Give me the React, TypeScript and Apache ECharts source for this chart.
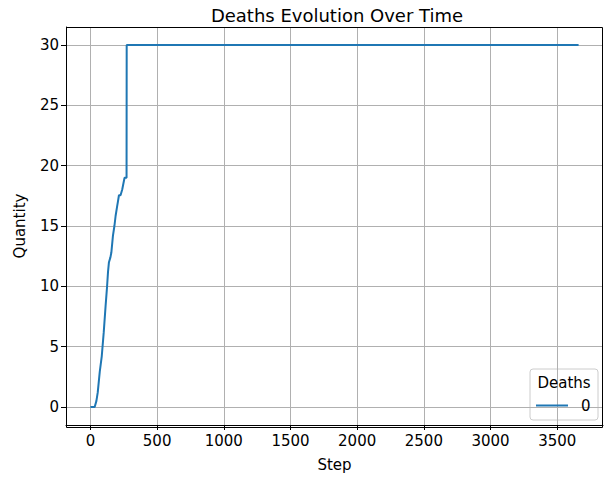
import React, { useEffect, useRef } from "react";
import * as echarts from "echarts";

const steps = [0, 32, 45, 55, 70, 85, 100, 114, 125, 132, 139, 150, 157, 169, 180, 189, 200, 206, 214, 226, 239, 247, 256, 271, 272, 3660];
const deaths = [0, 0, 0.5, 1.2, 2.9, 4.2, 6.2, 8.4, 10.0, 11.2, 12.0, 12.4, 12.8, 14.2, 15.0, 15.85, 16.6, 17.0, 17.55, 17.55, 18.05, 18.5, 19.0, 19.0, 30, 30];
const xTicks = [0, 500, 1000, 1500, 2000, 2500, 3000, 3500];
const yTicks = [0, 5, 10, 15, 20, 25, 30];

const FONT = "DejaVu Sans";
const FS = 15;

export default function App() {
  const ref = useRef<HTMLDivElement>(null);
  useEffect(() => {
    if (!ref.current) return;
    const chart = echarts.init(ref.current, undefined, { renderer: "svg" });
    const data = steps.map((s, i) => [s, deaths[i]]);
    chart.setOption({
      animation: false,
      backgroundColor: "#ffffff",
      title: {
        text: "Deaths Evolution Over Time",
        left: 332,
        top: 1,
        textAlign: "center",
        textStyle: { fontFamily: FONT, fontSize: 18, fontWeight: "normal", color: "#000" },
      },
      grid: { left: 66, right: 7, top: 27, bottom: 50, containLabel: false },
      xAxis: {
        type: "value",
        min: -183,
        max: 3843,
        name: "Step",
        nameLocation: "middle",
        nameGap: 32,
        nameTextStyle: { fontFamily: FONT, fontSize: FS, color: "#000" },
        axisLine: { show: true, onZero: false, lineStyle: { color: "#000", width: 1 } },
        axisTick: { show: true, length: 5, lineStyle: { color: "#000" }, customValues: xTicks },
        axisLabel: { fontFamily: FONT, fontSize: FS, color: "#000", margin: 8, customValues: xTicks, formatter: (v: number) => String(v) },
        splitLine: { show: true, lineStyle: { color: "#b0b0b0", width: 1 } },
      },
      yAxis: {
        type: "value",
        min: -1.5,
        max: 31.5,
        name: "Quantity",
        nameLocation: "middle",
        nameGap: 39,
        nameTextStyle: { fontFamily: FONT, fontSize: FS, color: "#000" },
        axisLine: { show: true, onZero: false, lineStyle: { color: "#000", width: 1 } },
        axisTick: { show: true, length: 5, lineStyle: { color: "#000" }, customValues: yTicks },
        axisLabel: { fontFamily: FONT, fontSize: FS, color: "#000", margin: 7, customValues: yTicks, formatter: (v: number) => String(v) },
        splitLine: { show: true, lineStyle: { color: "#b0b0b0", width: 1 } },
      },
      legend: {
        data: ["0"],
        left: 536,
        top: 398,
        itemWidth: 32,
        itemHeight: 14,
        icon: "path://M0,6 L32,6 L32,8 L0,8 Z",
        textStyle: { fontFamily: FONT, fontSize: FS, color: "#000", padding: [0, 0, 0, 8] },
        padding: 0,
      },
      graphic: [
        {
          type: "rect",
          z: 10,
          silent: true,
          shape: { x: 66.5, y: 27.5, width: 536, height: 400 },
          style: { fill: "none", stroke: "#000", lineWidth: 1 },
        },
        {
          type: "rect",
          z: 0,
          shape: { x: 530, y: 369, width: 68, height: 51, r: 3 },
          style: { fill: "rgba(255,255,255,0.8)", stroke: "#cccccc", lineWidth: 1 },
        },
        {
          type: "text",
          z: 1,
          x: 564,
          y: 383,
          style: { text: "Deaths", font: `${FS}px ${FONT}`, fill: "#000", textAlign: "center", textVerticalAlign: "middle" },
        },
      ],
      series: [
        {
          name: "0",
          type: "line",
          data,
          showSymbol: false,
          symbol: "none",
          lineStyle: { color: "#1f77b4", width: 2 },
          itemStyle: { color: "#1f77b4" },
          z: 3,
        },
      ],
    });
    return () => chart.dispose();
  }, []);
  return <div ref={ref} style={{ width: 610, height: 477, position: "absolute", left: 0, top: 0 }} />;
}
